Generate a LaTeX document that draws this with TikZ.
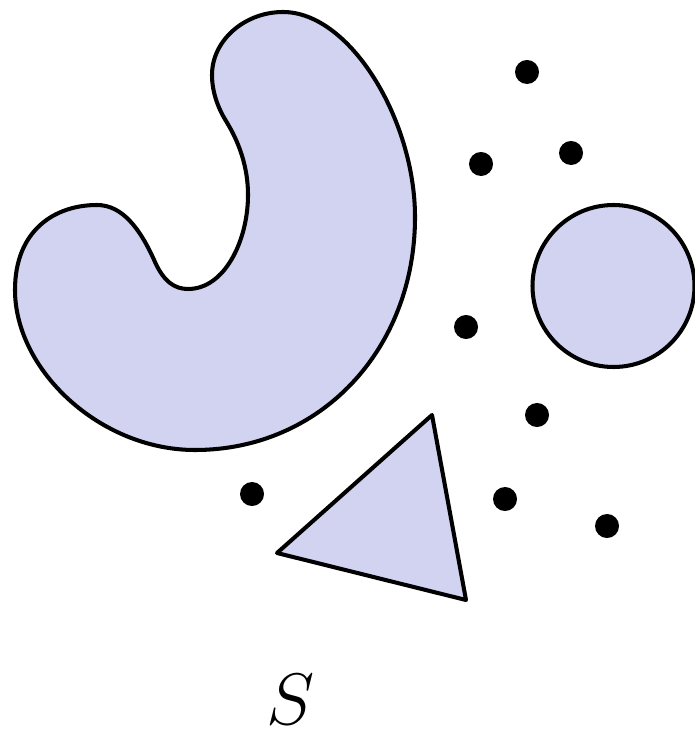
\documentclass[tikz,border=0pt]{standalone}
\usetikzlibrary{calc}

\definecolor{lavender}{RGB}{209,211,240}

\begin{document}
\begin{tikzpicture}[
  x=0.01cm, y=-0.01cm,
  region/.style={draw, line width=1.15pt, fill=lavender, line join=round},
  pt/.style={circle, fill, inner sep=0pt, minimum size=0.24cm}]
  \useasboundingbox (0,0) rectangle (695,746);
  % the bean
  \draw[region] (226,121) .. controls (218,108) and (212,92) .. (212,75)
    .. controls (212,40) and (245,12) .. (283,12)
    .. controls (350,12) and (415,120) .. (415,217)
    .. controls (415,350) and (320,450) .. (195,450)
    .. controls (100,450) and (15,370) .. (15,290)
    .. controls (15,230) and (55,205) .. (97,205)
    .. controls (122,205) and (140,228) .. (155,262)
    .. controls (164,282) and (175,289) .. (188,289)
    .. controls (225,289) and (248,240) .. (248,195)
    .. controls (248,160) and (234,134) .. (226,121) -- cycle;
  % the disc and the triangle
  \draw[region] (613.5,286) circle[radius=81];
  \draw[region] (432,415) -- (277,553) -- (466,600) -- cycle;
  % points
  \node[pt] (p1) at (527,72) {};
  \node[pt] (p2) at (481,164) {};
  \node[pt] (p3) at (571,153) {};
  \node[pt] (p4) at (466,327) {};
  \node[pt] (p5) at (537,415) {};
  \node[pt] (p6) at (252,494) {};
  \node[pt] (p7) at (505,499) {};
  \node[pt] (p8) at (607,526) {};
  \node[font=\fontsize{22}{26}\selectfont] (lbl) at (291,700) {$S$};
\end{tikzpicture}
\end{document}
